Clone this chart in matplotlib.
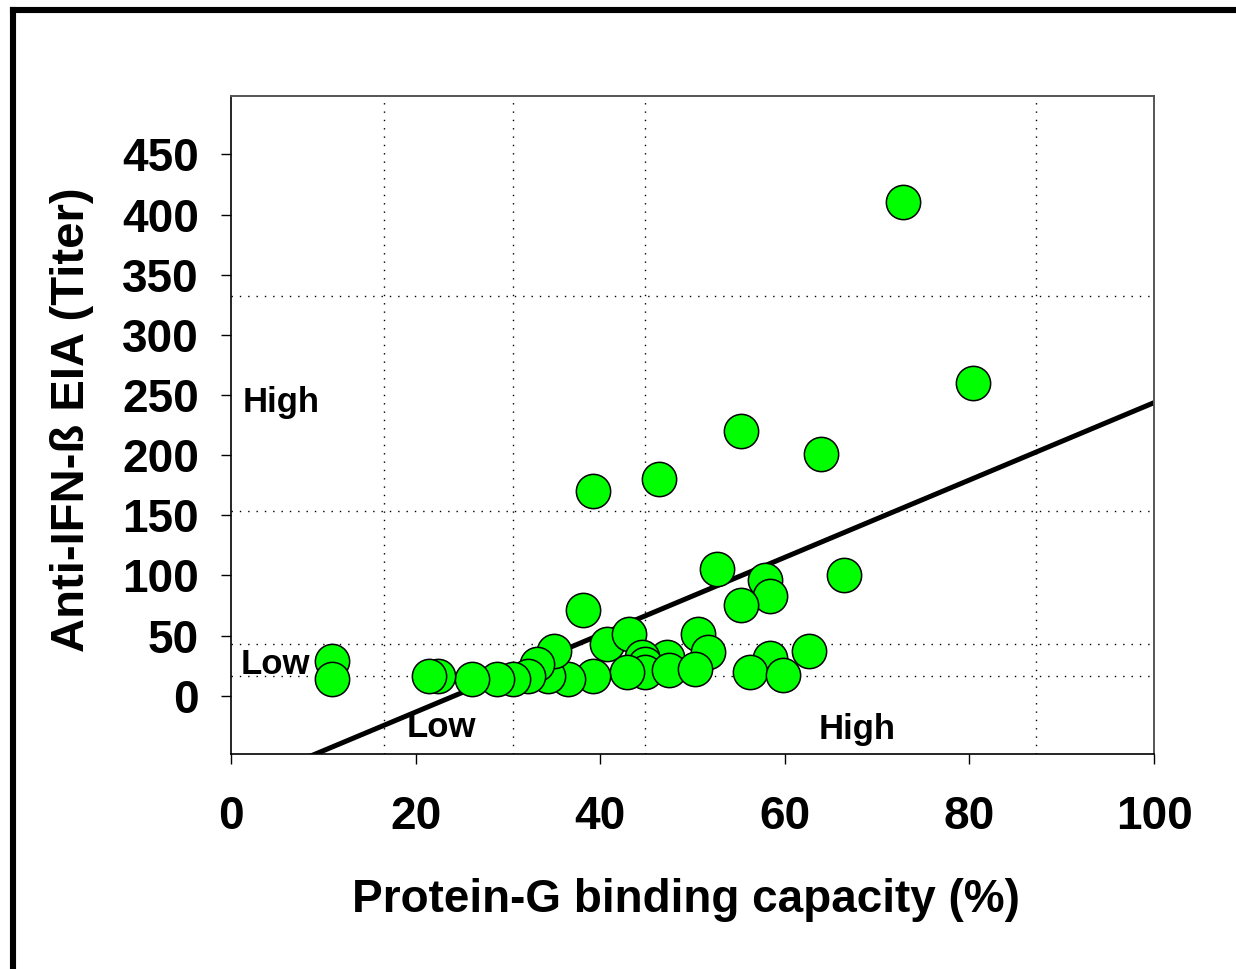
#!/usr/bin/env python3

import matplotlib

matplotlib.use("Agg")
import matplotlib.pyplot as plt
from matplotlib.lines import Line2D

# Protein-G binding capacity (%) vs anti-IFN-beta EIA titer
binding = [
    72.8, 80.4, 39.2, 46.4, 55.3, 63.9, 52.6, 57.9, 58.4, 55.2,
    66.4, 38.1, 40.7, 43.1, 50.6, 51.7, 62.6, 58.4, 47.2, 44.5,
    44.9, 44.9, 47.5, 50.3, 42.9, 56.2, 59.8, 39.2, 36.5, 34.3,
    35.0, 33.1, 32.2, 30.6, 28.8, 26.1, 22.4, 21.5, 10.9, 10.9,
]
titer = [
    410, 260, 170, 180, 220, 201, 105, 96, 83, 75,
    100, 71, 43, 51, 51, 36, 37, 31, 32, 32,
    26, 20, 21, 22, 20, 20, 17, 16, 14, 16,
    37, 26, 16, 14, 14, 14, 16, 16, 29, 14,
]

# regression line  titer = fit_a + fit_b * binding
fit_a = -77.9
fit_b = 3.215
fit_x = [0, 100]

# dotted cut-off lines
x_cuts = [16.6, 30.6, 44.8, 87.2]
y_cuts = [16.4, 42.7, 153.5, 332.5]

x_ticks = [0, 20, 40, 60, 80, 100]
y_ticks = [0, 50, 100, 150, 200, 250, 300, 350, 400, 450]


def main():
    plt.rcParams["font.family"] = ["Liberation Sans", "DejaVu Sans"]
    plt.rcParams["font.weight"] = "bold"

    fig = plt.figure(figsize=(12.36, 9.69), dpi=100)
    ax = fig.add_axes([0.1869, 0.2216, 0.7468, 0.6793])

    for xc in x_cuts:
        ax.axvline(xc, color="black", lw=1.0, ls=(0, (1, 5)), zorder=1)
    for yc in y_cuts:
        ax.axhline(yc, color="black", lw=1.0, ls=(0, (1, 5)), zorder=1)

    ax.plot(fit_x, [fit_a + fit_b * x for x in fit_x], "-", color="black",
            lw=3.6, solid_capstyle="round", zorder=2)

    ax.scatter(binding, titer, s=610, c="#00ff00", edgecolors="black",
               linewidths=1.1, zorder=3)

    ax.set_xlim(0, 100)
    ax.set_ylim(-48.7, 498.5)
    ax.set_xticks(x_ticks)
    ax.set_yticks(y_ticks)
    ax.tick_params(axis="both", direction="out", length=7, width=1,
                   labelsize=33)
    ax.tick_params(axis="x", pad=22)
    ax.tick_params(axis="y", pad=16)
    for lab in ax.get_xticklabels() + ax.get_yticklabels():
        lab.set_fontweight("bold")

    for side in ["left", "bottom"]:
        ax.spines[side].set_color("black")
        ax.spines[side].set_linewidth(1.2)
    for side in ["top", "right"]:
        ax.spines[side].set_color("#555555")
        ax.spines[side].set_linewidth(1.4)

    kw = dict(fontsize=25, fontweight="bold", va="baseline", ha="left", zorder=4)
    ax.text(1.3, 235.8, "High", **kw)
    ax.text(1.0, 18.0, "Low", **kw)
    ax.text(19.0, -34.1, "Low", **kw)
    ax.text(63.7, -36.0, "High", **kw)

    ax.set_xlabel("Protein-G binding capacity (%)", fontsize=33,
                  fontweight="bold", va="center")
    ax.xaxis.set_label_coords(0.493, -0.221)
    ax.set_ylabel("Anti-IFN-ß EIA (Titer)", fontsize=34, fontweight="bold",
                  va="center", ha="center")
    ax.yaxis.set_label_coords(-0.172, 0.508)

    # thick frame round the slide, cut off at right and bottom
    fig.add_artist(Line2D([0.0109, 0.0109], [0.0, 0.990], color="black",
                          lw=4.4, transform=fig.transFigure))
    fig.add_artist(Line2D([0.0109, 1.0], [0.990, 0.990], color="black",
                          lw=4.4, transform=fig.transFigure))

    fig.savefig("out.png", dpi=100)


if __name__ == "__main__":
    main()
